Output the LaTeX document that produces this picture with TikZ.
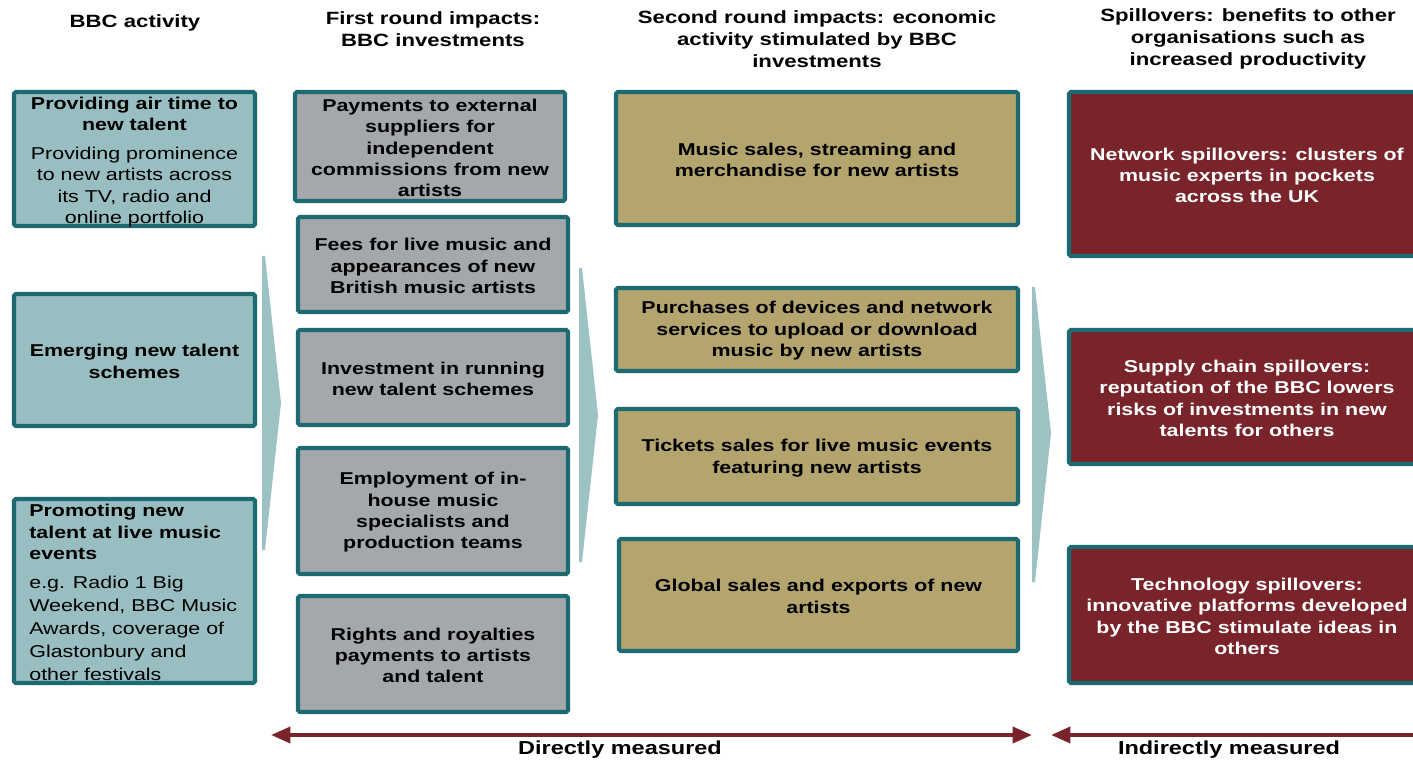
\documentclass[tikz,border=0pt]{standalone}
\usepackage{fontspec}
\setmainfont{Liberation Sans}[FakeStretch=1.25]
\usetikzlibrary{fit,arrows.meta}
\definecolor{bordc}{HTML}{1D6A72}
\definecolor{tealc}{HTML}{98BEC2}
\definecolor{grayc}{HTML}{A5A8AB}
\definecolor{khakic}{HTML}{B3A56D}
\definecolor{redc}{HTML}{79232A}
\definecolor{chevc}{HTML}{9CC2C4}
\newcommand\dfont{\fontsize{9.75pt}{12.2pt}\selectfont}
\newcommand\efont{\fontsize{9.75pt}{13.1pt}\selectfont}
\newcommand\hfont{\fontsize{10.1pt}{12.6pt}\selectfont}
\newcommand\mfont{\fontsize{10.7pt}{13pt}\selectfont}
\tikzset{
  box/.style={draw=bordc, line width=2.4pt, rounded corners=1pt, inner sep=0pt},
  tbox/.style={box, fill=tealc},
  gbox/.style={box, fill=grayc},
  kbox/.style={box, fill=khakic},
  rbox/.style={box, fill=redc},
  btxt/.style={inner sep=0pt, align=center, font=\dfont\bfseries, text=black},
  wtxt/.style={btxt, text=white},
  hdr/.style={inner sep=0pt, align=center, font=\hfont\bfseries},
  mlab/.style={inner sep=0pt, align=center, font=\mfont\bfseries},
  txt/.style={inner sep=0pt, font=\dfont},
  chev/.style={fill=chevc},
  meas/.style={draw=redc, line width=2.3pt,
    {Triangle[length=11pt,width=9pt]}-{Triangle[length=11pt,width=9pt]}}
}
% box frame + centred text: style, text style, name, corner, corner, text
\newcommand\bx[6]{%
  \node[#1, fit={(#4)(#5)}] (#3) {};
  \node[#2] (#3t) at ([yshift=-0.8pt]#3.center) {#6};}
\begin{document}
\begin{tikzpicture}[x=0.02cm,y=-0.02cm]
\useasboundingbox (0,0) rectangle (1413,763);
\clip (0,0) rectangle (1413,763);

% headers
\node[hdr] (h1) at (135,23) {BBC activity};
\node[hdr] (h2) at (433,29) {First round impacts:\\BBC investments};
\node[hdr] (h3) at (817,39) {Second round impacts: economic\\activity stimulated by BBC\\investments};
\node[hdr] (h4) at (1248,39) {Spillovers: benefits to other\\organisations such as\\increased productivity};

% chevrons
\fill[chev] (262,256) -- (265,256) -- (281,403) -- (265,550) -- (262,550) -- cycle;
\fill[chev] (579,268) -- (582,268) -- (598,415) -- (582,562) -- (579,562) -- cycle;
\fill[chev] (1032,287) -- (1035,287) -- (1051,433) -- (1035,582) -- (1032,582) -- cycle;

% column 1
\node[tbox, fit={(14,92)(255,226)}] (a1) {};
\node[txt, font=\dfont\bfseries, align=center] (a1t) at (134.5,114) {Providing air time to\\new talent};
\node[txt, align=center] (a1s) at (134.5,187) {Providing prominence\\to new artists across\\its TV, radio and\\online portfolio};
\bx{tbox}{btxt}{a2}{14,294}{255,426}{Emerging new talent\\schemes}
\node[tbox, fit={(14,499)(255,683)}] (a3) {};
\node[txt, font=\dfont\bfseries, align=left, anchor=north west] (a3t) at (29,504) {Promoting new\\talent at live music\\events};
\node[txt, font=\efont, align=left, anchor=north west] (a3s) at (29,576) {e.g. Radio 1 Big\\Weekend, BBC Music\\Awards, coverage of\\Glastonbury and\\other festivals};

% column 2
\bx{gbox}{btxt}{b1}{295,92}{565,201}{Payments to external\\suppliers for\\independent\\commissions from new\\artists}
\bx{gbox}{btxt}{b2}{298,217}{568,312}{Fees for live music and\\appearances of new\\British music artists}
\bx{gbox}{btxt}{b3}{298,330}{568,425}{Investment in running\\new talent schemes}
\bx{gbox}{btxt}{b4}{298,448}{568,574}{Employment of in-\\house music\\specialists and\\production teams}
\bx{gbox}{btxt}{b5}{298,596}{568,712}{Rights and royalties\\payments to artists\\and talent}

% column 3
\bx{kbox}{btxt}{c1}{616,92}{1018,225}{Music sales, streaming and\\merchandise for new artists}
\bx{kbox}{btxt}{c2}{616,288}{1018,371}{Purchases of devices and network\\services to upload or download\\music by new artists}
\bx{kbox}{btxt}{c3}{616,409}{1018,504}{Tickets sales for live music events\\featuring new artists}
\bx{kbox}{btxt}{c4}{619,539}{1018,651}{Global sales and exports of new\\artists}

% column 4
\bx{rbox}{wtxt}{d1}{1069,92}{1425,256}{Network spillovers: clusters of\\music experts in pockets\\across the UK}
\bx{rbox}{wtxt}{d2}{1069,330}{1425,464}{Supply chain spillovers:\\reputation of the BBC lowers\\risks of investments in new\\talents for others}
\bx{rbox}{wtxt}{d3}{1069,547}{1425,683}{Technology spillovers:\\innovative platforms developed\\by the BBC stimulate ideas in\\others}

% measurement arrows
\coordinate (l1) at (271,735);
\coordinate (r1) at (1032,735);
\coordinate (l2) at (1051,735);
\coordinate (r2) at (1433,735);
\draw[meas] (l1) -- (r1);
\draw[meas] (l2) -- (r2);
\node[mlab] (dm) at (620,750) {Directly measured};
\node[mlab] (im) at (1229,750) {Indirectly measured};
\end{tikzpicture}
\end{document}
